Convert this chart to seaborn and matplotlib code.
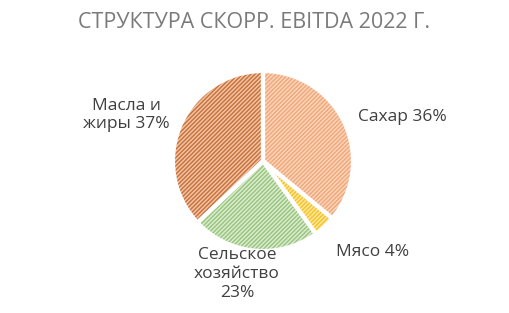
import matplotlib
matplotlib.use("Agg")
import matplotlib.pyplot as plt
import seaborn as sns

sns.set_theme(style="white")
plt.rcParams['font.family'] = ['Open Sans', 'DejaVu Sans']
plt.rcParams['hatch.linewidth'] = 1.1

title = "СТРУКТУРА СКОРР. EBITDA 2022 Г."
categories = ["Сахар", "Мясо", "Сельское\nхозяйство", "Масла и\nжиры"]
shares = [36, 4, 23, 37]
label_texts = ["Сахар 36%", "Мясо 4%", "Сельское\nхозяйство\n23%", "Масла и\nжиры 37%"]

face_colors = ["#FAD6BE", "#FFE9A6", "#DDEDD4", "#F5C7A8"]
hatch_colors = ["#F0A97A", "#F6C428", "#9BC67E", "#C8743F"]

W, H = 509, 313
fig = plt.figure(figsize=(W / 100, H / 100), dpi=100)
ax = fig.add_axes([0, 0, 1, 1])

cx, cy, r = 263, H - 161, 90
wedges, _ = ax.pie(shares, startangle=90, counterclock=False, center=(cx, cy), radius=r,
                   colors=face_colors, wedgeprops=dict(linewidth=0, hatch="////////"))
for w, hc in zip(wedges, hatch_colors):
    w.set_edgecolor(hc)
    w.set_linewidth(0)
ax.pie(shares, startangle=90, counterclock=False, center=(cx, cy), radius=r,
       colors=["none"] * 4, wedgeprops=dict(linewidth=3, edgecolor="white"))

ax.set_xlim(0, W)
ax.set_ylim(0, H)
ax.set_aspect('equal', adjustable='box')
ax.axis('off')

label_pos = [(402, 117), (373, 252), (237, 274), (126, 115)]
for (px, py), t in zip(label_pos, label_texts):
    ax.text(px, H - py, t, ha='center', va='center', fontsize=12.5, color="#404040",
            linespacing=1.25)

fig.text(0.5, 1 - 22 / H, title, ha='center', va='center', fontsize=15.5, color="#7A7A7A")

fig.savefig("out.png", dpi=100)
